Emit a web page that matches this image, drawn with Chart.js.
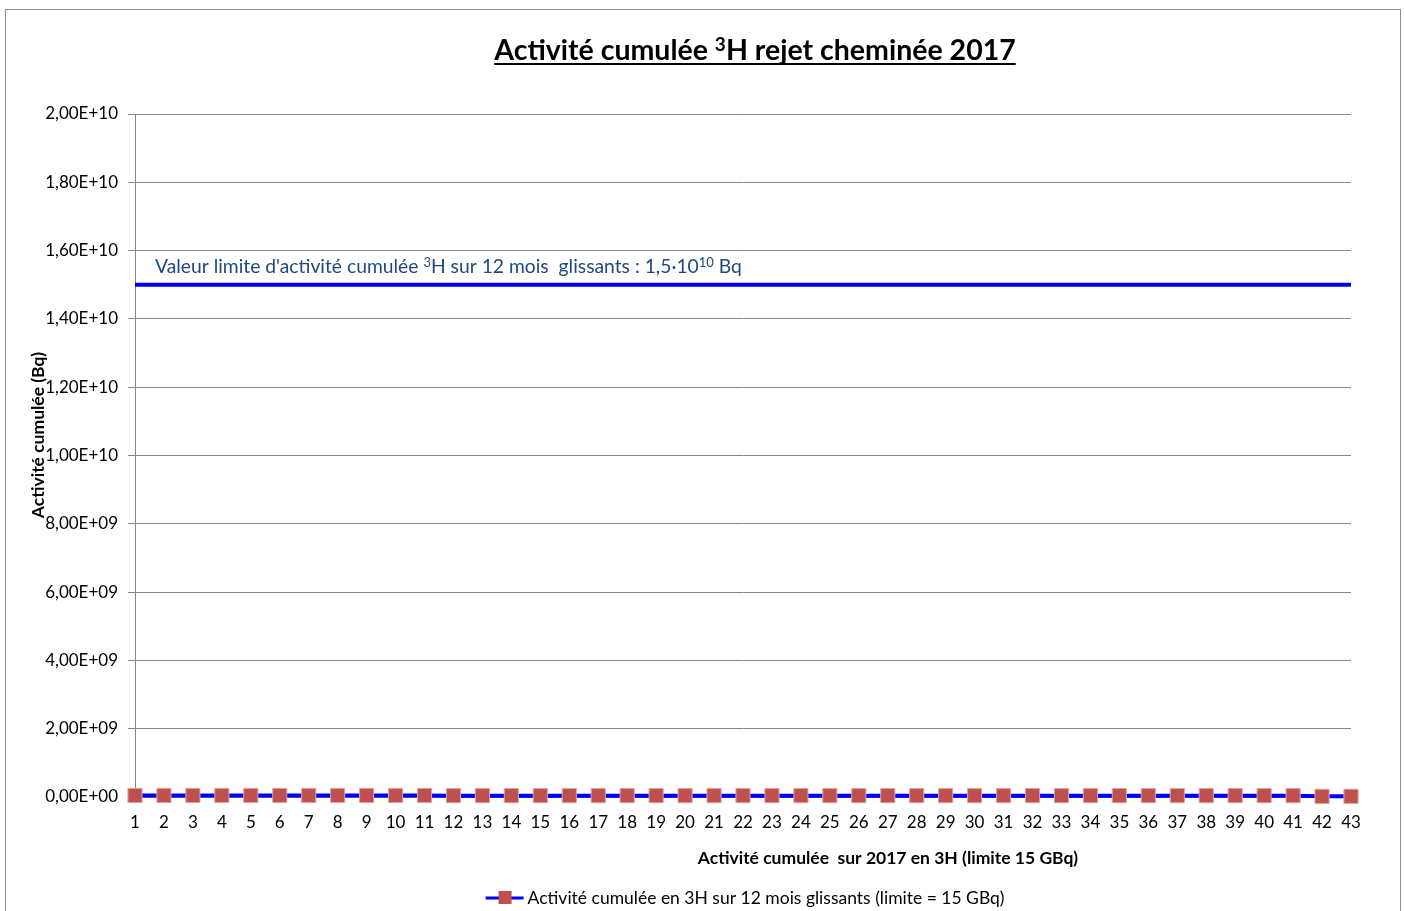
<!DOCTYPE html>
<html>
<head>
<meta charset="utf-8">
<script src="https://cdn.jsdelivr.net/npm/chart.js@4.4.1/dist/chart.umd.min.js"></script>
<style>
  html, body { margin: 0; padding: 0; background: #fff; }
  #wrap { position: relative; width: 1404px; height: 911px; overflow: hidden; }
  #frame { position: absolute; left: 5px; top: 9px; width: 1394px; height: 920px; border: 1px solid #8c8c8c; }
  #c { position: absolute; left: 0; top: 0; }
</style>
</head>
<body>
<div id="wrap">
  <div id="frame"></div>
  <canvas id="c" width="1404" height="911"></canvas>
</div>
<script>
/* ===== données ===== */
const categories = ['1','2','3','4','5','6','7','8','9','10','11','12','13','14','15','16','17','18','19','20','21','22',
  '23','24','25','26','27','28','29','30','31','32','33','34','35','36','37','38','39','40','41','42','43'];
// activité cumulée sur 12 mois glissants (Bq)
const activite = [4.5e7, 4.5e7, 4.5e7, 4.5e7, 4.5e7, 4.5e7, 4.5e7, 4.5e7, 4.5e7, 4.5e7, 4.5e7, 4.0e7, 4.0e7, 4.0e7,
  4.0e7, 4.0e7, 4.0e7, 4.0e7, 4.0e7, 4.0e7, 4.0e7, 4.0e7, 4.0e7, 4.0e7, 4.0e7, 4.0e7, 4.0e7, 4.0e7, 4.0e7, 4.0e7,
  4.0e7, 4.0e7, 4.0e7, 4.0e7, 4.0e7, 4.0e7, 4.0e7, 4.0e7, 4.0e7, 4.0e7, 4.0e7, 2.0e7, 2.0e7];
const limite = 1.5e10;
const limiteSerie = categories.map(() => limite);
const yTicks = [0, 2e9, 4e9, 6e9, 8e9, 1e10, 1.2e10, 1.4e10, 1.6e10, 1.8e10, 2e10];

const FONT = 'Lato, "Open Sans", sans-serif';

// format Excel "0,00E+00"
function fmtSci(v) {
  const s = Number(v).toExponential(2).split('e');
  let exp = parseInt(s[1], 10);
  const sign = exp < 0 ? '-' : '+';
  exp = Math.abs(exp);
  return s[0].replace('.', ',') + 'E' + sign + (exp < 10 ? '0' + exp : exp);
}

// texte avec exposants
function drawRich(ctx, parts, x, y, size, weight, color) {
  let cx = x;
  ctx.fillStyle = color;
  ctx.textBaseline = 'alphabetic';
  ctx.textAlign = 'left';
  parts.forEach(p => {
    if (p.sup) {
      ctx.font = weight + ' ' + Math.round(size * 0.65) + 'px ' + FONT;
      ctx.fillText(p.t, cx, y - size * 0.3);
    } else {
      ctx.font = weight + ' ' + size + 'px ' + FONT;
      ctx.fillText(p.t, cx, y);
    }
    cx += ctx.measureText(p.t).width;
  });
  return cx - x;
}
function richWidth(ctx, parts, size, weight) {
  let w = 0;
  parts.forEach(p => {
    ctx.font = weight + ' ' + (p.sup ? Math.round(size * 0.65) : size) + 'px ' + FONT;
    w += ctx.measureText(p.t).width;
  });
  return w;
}

const titre = [{t: 'Activité cumulée '}, {t: '3', sup: true}, {t: 'H rejet cheminée 2017'}];
const annotation = [{t: "Valeur limite d'activité cumulée "}, {t: '3', sup: true},
  {t: 'H sur 12 mois  glissants : 1,5·10'}, {t: '10', sup: true}, {t: ' Bq'}];
const titreX = 'Activité cumulée  sur 2017 en 3H (limite 15 GBq)';
const titreY = 'Activité cumulée (Bq)';
const legende = 'Activité cumulée en 3H sur 12 mois glissants (limite = 15 GBq)';

const textes = {
  id: 'textes',
  afterDraw(chart) {
    const ctx = chart.ctx;
    const a = chart.chartArea;
    const y = chart.scales.y;
    ctx.save();
    // titre souligné
    const tw = richWidth(ctx, titre, 28.5, 'bold');
    const tx = 755 - tw / 2;
    drawRich(ctx, titre, tx, 60, 28.5, 'bold', '#000');
    ctx.fillRect(tx, 63, tw, 2);
    // texte de la limite
    drawRich(ctx, annotation, a.left + 20, y.getPixelForValue(limite) - 12, 19.3, 'normal', '#1f497d');
    // titre axe x
    ctx.font = 'bold 17.5px ' + FONT;
    ctx.fillStyle = '#000';
    ctx.textAlign = 'center';
    ctx.fillText(titreX, 888, 864);
    // titre axe y
    ctx.save();
    ctx.translate(44, 435);
    ctx.rotate(-Math.PI / 2);
    ctx.font = 'bold 17.5px ' + FONT;
    ctx.fillText(titreY, 0, 0);
    ctx.restore();
    // légende
    ctx.font = '17.5px ' + FONT;
    const lw = ctx.measureText(legende).width + 42;
    const lx = (a.left + a.right) / 2 - lw / 2 + 2;
    const ly = 898;
    ctx.strokeStyle = '#0000ff';
    ctx.lineWidth = 3;
    ctx.beginPath();
    ctx.moveTo(lx, ly);
    ctx.lineTo(lx + 38, ly);
    ctx.stroke();
    ctx.fillStyle = '#c0504d';
    ctx.fillRect(lx + 13, ly - 7, 13, 13);
    ctx.fillStyle = '#000';
    ctx.textAlign = 'left';
    ctx.textBaseline = 'middle';
    ctx.fillText(legende, lx + 42, ly);
    ctx.restore();
  }
};

new Chart(document.getElementById('c'), {
  type: 'line',
  data: {
    labels: categories,
    datasets: [
      {
        label: 'Limite',
        data: limiteSerie,
        borderColor: '#0000ff',
        borderWidth: 4,
        pointRadius: 0,
        order: 2
      },
      {
        label: legende,
        data: activite,
        borderColor: '#0000ff',
        borderWidth: 4,
        pointStyle: 'rect',
        pointRadius: 10,
        pointBackgroundColor: '#c0504d',
        pointBorderColor: '#d9a3a1',
        pointBorderWidth: 1,
        clip: false,
        order: 1
      }
    ]
  },
  options: {
    responsive: false,
    animation: false,
    layout: { padding: { top: 114, right: 53, left: 0, bottom: 0 } },
    plugins: {
      legend: { display: false },
      title: { display: false },
      tooltip: { enabled: false }
    },
    scales: {
      x: {
        offset: false,
        grid: { display: true, drawOnChartArea: false, color: '#868686', tickLength: 5 },
        border: { color: '#868686', width: 1 },
        ticks: { color: '#000', font: { family: FONT, size: 17 }, padding: 10, maxRotation: 0, autoSkip: false },
        afterFit(s) { s.height = 114; }
      },
      y: {
        min: 0,
        max: 2e10,
        afterBuildTicks(s) { s.ticks = yTicks.map(v => ({ value: v })); },
        grid: { color: '#868686', tickLength: 7 },
        border: { color: '#868686', width: 1 },
        ticks: { color: '#000', font: { family: FONT, size: 17 }, padding: 10, callback: v => fmtSci(v) },
        afterFit(s) { s.width = 135; }
      }
    }
  },
  plugins: [textes]
});
</script>
</body>
</html>
